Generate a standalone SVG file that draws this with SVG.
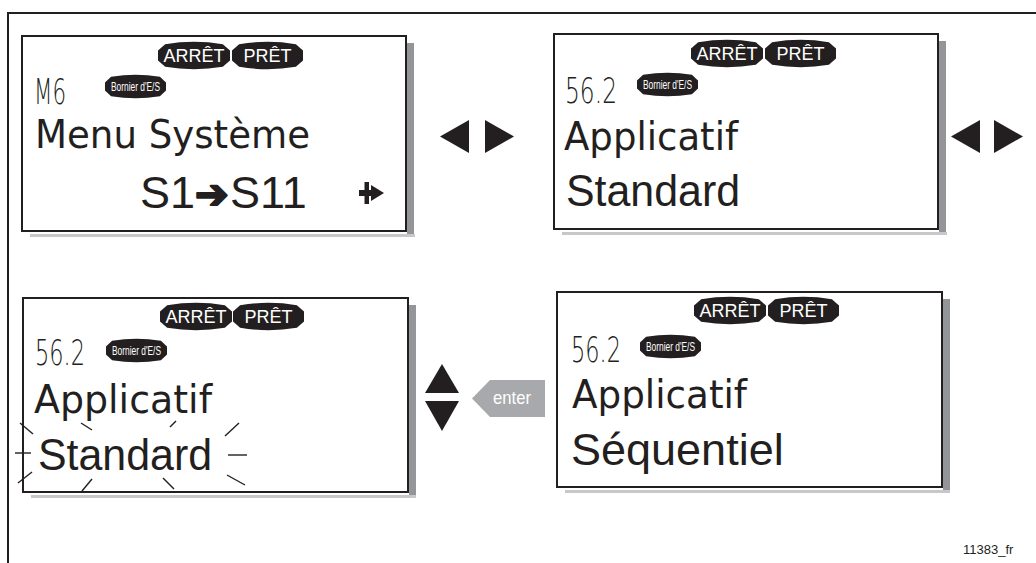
<svg xmlns="http://www.w3.org/2000/svg" xmlns:xlink="http://www.w3.org/1999/xlink" width="1036" height="563" viewBox="0 0 1036 563">
<style>
.panel{fill:#fff;stroke:#231f20;stroke-width:2}
.shd{fill:#939598}
.shl{fill:#c7c8ca}
.badge{fill:#231f20}
.bt{font-family:"Liberation Sans",Arial,sans-serif;font-size:18px;fill:#fff;text-anchor:middle}
.bs{font-family:"Liberation Sans",Arial,sans-serif;font-size:13px;fill:#fff;text-anchor:middle}
.lcd{font-family:"DejaVu Sans",sans-serif;font-weight:200;font-size:35px;fill:#231f20}
.big{font-family:"DejaVu Sans",sans-serif;font-size:39px;fill:#231f20}
.ar{font-family:"Liberation Sans",Arial,sans-serif;font-size:45px;fill:#231f20}
.tri{fill:#231f20}
.spk{stroke:#231f20;stroke-width:1.4;fill:none}
</style>
<defs>
<path id="bA" d="M0,8.6 L7.2,2.2 Q36,-2.7 64.8,2.2 L72,8.6 L72,18.4 L64.8,24.8 Q36,29.7 7.2,24.8 L0,18.4 Z"/>
<path id="bP" d="M0,8.6 L7.1,2.2 Q35.5,-2.7 63.9,2.2 L71,8.6 L71,18.4 L63.9,24.8 Q35.5,29.7 7.1,24.8 L0,18.4 Z"/>
<path id="bB" d="M0,7.4 L6.1,1.8 Q30.5,-2.3 54.9,1.8 L61,7.4 L61,15.6 L54.9,21.2 Q30.5,25.3 6.1,21.2 L0,15.6 Z"/>
</defs>
<rect width="1036" height="563" fill="#fff"/>
<g id="frame">
<path d="M8,563 V13 H1036" fill="none" stroke="#231f20" stroke-width="2"/>
</g>

<g id="panel1">
<rect class="shd" x="407" y="43" width="7" height="192"/>
<rect class="shl" x="30" y="234" width="385" height="3"/>
<rect class="panel" x="22" y="36" width="384" height="195"/>
<use href="#bA" xlink:href="#bA" class="badge" x="158" y="42"/>
<use href="#bP" xlink:href="#bP" class="badge" x="232" y="42"/>
<text class="bt" x="194" y="62">ARRÊT</text>
<text class="bt" x="267.5" y="62">PRÊT</text>
<use href="#bB" xlink:href="#bB" class="badge" x="105" y="75"/>
<text class="bs" x="135.5" y="91" textLength="49" lengthAdjust="spacingAndGlyphs">Bornier d'E/S</text>
<text class="lcd" x="34" y="104" textLength="32" lengthAdjust="spacingAndGlyphs">M6</text>
<text class="big" x="35" y="148" textLength="275" lengthAdjust="spacingAndGlyphs" font-size="35">Menu Système</text>
<text class="ar" y="208"><tspan x="140">S1</tspan><tspan x="195" font-family="DejaVu Sans,sans-serif" font-weight="bold" font-size="40" stroke="#231f20" stroke-width="2.2" stroke-linejoin="round">➔</tspan><tspan x="230">S11</tspan></text>
<path class="tri" d="M364.5,182 H369 V190 H371 V185 L384,193 L371,201 V196 H369 V204 H364.5 V196 H359 V190 H364.5 Z"/>
</g>

<g id="nav1">
<polygon class="tri" points="440,136.5 469,120 469,153"/>
<polygon class="tri" points="514,136.5 485,120 485,153"/>
</g>

<g id="panel2">
<rect class="shd" x="939" y="41" width="7" height="192"/>
<rect class="shl" x="562" y="232" width="385" height="3"/>
<rect class="panel" x="554" y="34" width="384" height="195"/>
<use href="#bA" xlink:href="#bA" class="badge" x="691" y="40"/>
<use href="#bP" xlink:href="#bP" class="badge" x="765" y="40"/>
<text class="bt" x="727" y="60">ARRÊT</text>
<text class="bt" x="800.5" y="60">PRÊT</text>
<use href="#bB" xlink:href="#bB" class="badge" x="637" y="73"/>
<text class="bs" x="667.5" y="89" textLength="49" lengthAdjust="spacingAndGlyphs">Bornier d'E/S</text>
<text class="lcd" x="565" y="103" textLength="52" lengthAdjust="spacingAndGlyphs">56.2</text>
<text class="big" x="564" y="150" textLength="174" lengthAdjust="spacingAndGlyphs">Applicatif</text>
<text class="ar" x="566" y="206" textLength="174" lengthAdjust="spacingAndGlyphs">Standard</text>
</g>

<g id="nav2">
<polygon class="tri" points="951,136.5 980,120 980,153"/>
<polygon class="tri" points="1023,136.5 994,120 994,153"/>
</g>

<g id="panel3">
<rect class="shd" x="409" y="305" width="7" height="192"/>
<rect class="shl" x="31" y="495" width="385" height="3"/>
<rect class="panel" x="23" y="298" width="385" height="194"/>
<use href="#bA" xlink:href="#bA" class="badge" x="160" y="303"/>
<use href="#bP" xlink:href="#bP" class="badge" x="233" y="303"/>
<text class="bt" x="196" y="323">ARRÊT</text>
<text class="bt" x="268.5" y="323">PRÊT</text>
<use href="#bB" xlink:href="#bB" class="badge" x="106" y="339"/>
<text class="bs" x="136.5" y="355" textLength="49" lengthAdjust="spacingAndGlyphs">Bornier d'E/S</text>
<text class="lcd" x="35" y="365" textLength="50" lengthAdjust="spacingAndGlyphs">56.2</text>
<text class="big" x="34" y="413" textLength="178" lengthAdjust="spacingAndGlyphs">Applicatif</text>
<text class="ar" x="38" y="470" textLength="174" lengthAdjust="spacingAndGlyphs">Standard</text>
<g class="spk">
<line x1="20" y1="423" x2="33" y2="434"/>
<line x1="81" y1="423" x2="92" y2="430"/>
<line x1="170" y1="427" x2="176" y2="421"/>
<line x1="225" y1="436" x2="239" y2="423"/>
<line x1="15" y1="453" x2="31" y2="453"/>
<line x1="228" y1="455" x2="247" y2="455"/>
<line x1="18" y1="483" x2="32" y2="472"/>
<line x1="82" y1="491" x2="92" y2="479"/>
<line x1="163" y1="478" x2="174" y2="489"/>
<line x1="227" y1="475" x2="245" y2="485"/>
</g>
</g>

<g id="nav3">
<polygon class="tri" points="442,364 459,393 425,393"/>
<polygon class="tri" points="442,431 459,401 425,401"/>
</g>

<g id="enter">
<polygon points="472,398.5 490,380 545,380 545,417 490,417" fill="#a7a9ac"/>
<text x="493" y="404" font-family="Liberation Sans,Arial,sans-serif" font-size="19" fill="#fff" textLength="38" lengthAdjust="spacingAndGlyphs">enter</text>
</g>

<g id="panel4">
<rect class="shd" x="943" y="299" width="7" height="192"/>
<rect class="shl" x="565" y="490" width="385" height="3"/>
<rect class="panel" x="557" y="292" width="385" height="195"/>
<use href="#bA" xlink:href="#bA" class="badge" x="694" y="297"/>
<use href="#bP" xlink:href="#bP" class="badge" x="768" y="297"/>
<text class="bt" x="730" y="317">ARRÊT</text>
<text class="bt" x="803.5" y="317">PRÊT</text>
<use href="#bB" xlink:href="#bB" class="badge" x="640" y="335"/>
<text class="bs" x="670.5" y="351" textLength="49" lengthAdjust="spacingAndGlyphs">Bornier d'E/S</text>
<text class="lcd" x="571" y="362" textLength="50" lengthAdjust="spacingAndGlyphs">56.2</text>
<text class="big" x="572" y="408" textLength="175" lengthAdjust="spacingAndGlyphs">Applicatif</text>
<text class="ar" x="571" y="465" font-size="46">Séquentiel</text>
</g>

<text x="963" y="554" font-family="Liberation Sans,Arial,sans-serif" font-size="13" fill="#231f20">11383_fr</text>
</svg>
